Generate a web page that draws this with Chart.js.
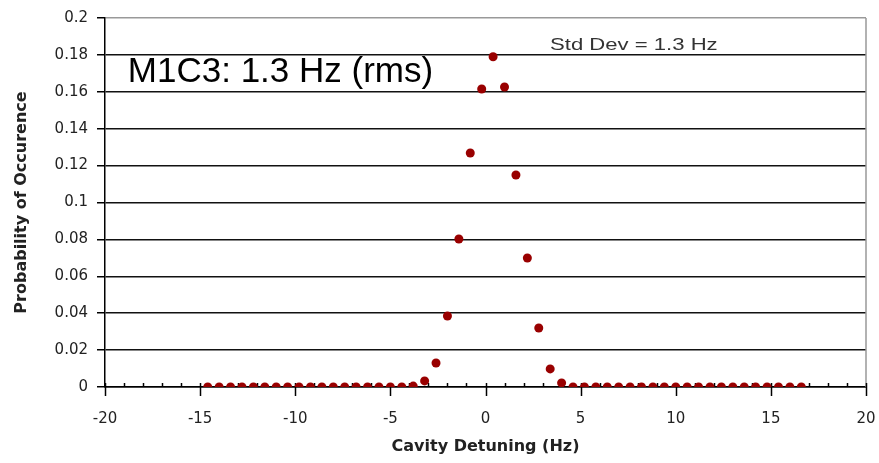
<!DOCTYPE html>
<html>
<head>
<meta charset="utf-8">
<script src="https://cdn.jsdelivr.net/npm/chart.js@4/dist/chart.umd.min.js"></script>
<style>
  html, body { margin: 0; background: #fff; }
  #wrap { width: 879px; height: 463px; }
</style>
</head>
<body>
<div id="wrap"><canvas id="chart"></canvas></div>
<script>
// bin centres (Hz) and measured probability per bin
const detuning = [
  -14.6, -14.0, -13.4, -12.8, -12.2, -11.6, -11.0, -10.4, -9.8, -9.2,
  -8.6, -8.0, -7.4, -6.8, -6.2, -5.6, -5.0, -4.4, -3.8, -3.2,
  -2.6, -2.0, -1.4, -0.8, -0.2, 0.4, 1.0, 1.6, 2.2, 2.8,
  3.4, 4.0, 4.6, 5.2, 5.8, 6.4, 7.0, 7.6, 8.2, 8.8,
  9.4, 10.0, 10.6, 11.2, 11.8, 12.4, 13.0, 13.6, 14.2, 14.8,
  15.4, 16.0, 16.6
];
const probability = [
  0, 0, 0, 0, 0, 0, 0, 0, 0, 0,
  0, 0, 0, 0, 0, 0, 0, 0, 0.0005, 0.0033,
  0.013, 0.0385, 0.0802, 0.1268, 0.1615, 0.179, 0.1626, 0.1149, 0.0699, 0.032,
  0.0098, 0.0022, 0, 0, 0, 0, 0, 0, 0, 0,
  0, 0, 0, 0, 0, 0, 0, 0, 0, 0,
  0, 0, 0
];
const xTicks = [-20, -15, -10, -5, 0, 5, 10, 15, 20];
const yTicks = [0, 0.02, 0.04, 0.06, 0.08, 0.1, 0.12, 0.14, 0.16, 0.18, 0.2];
const xTitle = "Cavity Detuning (Hz)";
const yTitle = "Probability of Occurence";
const noteRms = "M1C3: 1.3 Hz (rms)";
const noteStd = "Std Dev = 1.3 Hz";

const tickFont = { family: "'DejaVu Sans', sans-serif", size: 15 };
const titleFont = { family: "'DejaVu Sans', sans-serif", size: 16, weight: "bold" };

// excel-style minor/major ticks, right frame line and the two text notes
const extras = {
  id: "extras",
  beforeDatasetsDraw(chart) {
    const { ctx, chartArea: a, scales: { x } } = chart;
    ctx.save();
    ctx.strokeStyle = "#999";
    ctx.lineWidth = 1.5;
    ctx.beginPath();
    ctx.moveTo(a.right, a.top);
    ctx.lineTo(a.right, a.bottom);
    ctx.stroke();

    ctx.strokeStyle = "#000";
    for (let v = -20; v <= 20; v++) {
      const px = Math.round(x.getPixelForValue(v)) + 0.5;
      ctx.beginPath();
      ctx.moveTo(px, a.bottom - 4);
      ctx.lineTo(px, v % 5 === 0 ? a.bottom + 9 : a.bottom);
      ctx.stroke();
    }
    ctx.restore();
  },
  afterDraw(chart) {
    const { ctx, scales: { x, y } } = chart;
    ctx.save();
    ctx.textAlign = "left";
    ctx.textBaseline = "alphabetic";

    ctx.fillStyle = "#000";
    ctx.font = "35px 'Liberation Sans', Arial, sans-serif";
    ctx.fillText(noteRms, x.getPixelForValue(-18.8), y.getPixelForValue(0.1653));

    ctx.fillStyle = "#333";
    ctx.font = "17px 'Liberation Sans', Arial, sans-serif";
    ctx.translate(x.getPixelForValue(3.39), y.getPixelForValue(0.1827));
    ctx.scale(1.3, 1);
    ctx.fillText(noteStd, 0, 0);
    ctx.restore();
  }
};

new Chart(document.getElementById("chart"), {
  type: "scatter",
  data: {
    datasets: [{
      data: detuning.map((d, i) => ({ x: d, y: probability[i] })),
      backgroundColor: "#990000",
      borderColor: "#990000",
      pointStyle: "circle",
      pointRadius: 4.5,
      borderWidth: 0,
      showLine: false
    }]
  },
  options: {
    responsive: true,
    maintainAspectRatio: false,
    devicePixelRatio: 1,
    animation: false,
    layout: { autoPadding: false, padding: { left: 0, top: 18, right: 13, bottom: 0 } },
    plugins: { legend: { display: false }, tooltip: { enabled: false } },
    scales: {
      x: {
        type: "linear",
        min: -20,
        max: 20,
        afterBuildTicks: s => { s.ticks = xTicks.map(v => ({ value: v })); },
        afterFit: s => { s.height = 76; s.paddingLeft = 0; s.paddingRight = 0; },
        grid: { drawOnChartArea: false, drawTicks: false },
        border: { color: "#000", width: 1.5 },
        ticks: { autoSkip: false, maxRotation: 0, padding: 23, color: "#222", font: tickFont },
        title: { display: true, text: xTitle, color: "#222", font: titleFont, padding: { top: 0, bottom: 7 } }
      },
      y: {
        type: "linear",
        min: 0,
        max: 0.2,
        afterBuildTicks: s => { s.ticks = yTicks.map(v => ({ value: v })); },
        afterFit: s => { s.width = 105; s.paddingTop = 0; s.paddingBottom = 0; },
        grid: {
          color: c => (c.index === yTicks.length - 1 ? "#999" : "#111"),
          lineWidth: 1.5,
          tickLength: 8,
          tickColor: "#000",
          tickWidth: 1.5
        },
        border: { color: "#000", width: 1.5 },
        ticks: { padding: 9, color: "#222", font: tickFont, callback: v => String(+v.toFixed(2)) },
        title: { display: true, text: yTitle, color: "#222", font: titleFont, padding: { top: 12, bottom: 0 } }
      }
    }
  },
  plugins: [extras]
});
</script>
</body>
</html>
